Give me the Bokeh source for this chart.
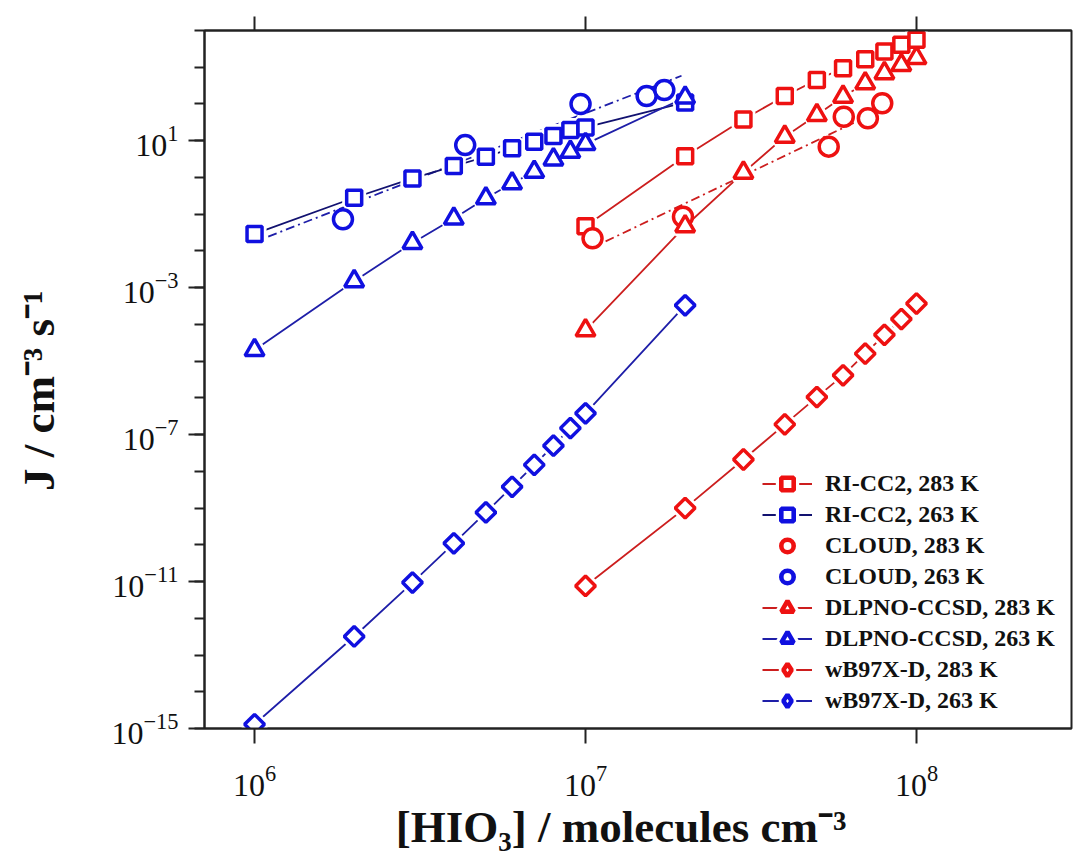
import math
import numpy as np
from bokeh.plotting import figure
from bokeh.models import (Range1d, FixedTicker, LogAxis, Legend, LegendItem)
from bokeh.embed import file_html
from bokeh.resources import INLINE

# ---------------- data ----------------
x_263 = [1e6, 2e6, 3e6, 4e6, 5e6, 6e6, 7e6, 8e6, 9e6, 1e7, 2e7]
x_283 = [1e7, 2e7, 3e7, 4e7, 5e7, 6e7, 7e7, 8e7, 9e7, 1e8]

ricc2_283 = [0.047, 3.8, 38, 165, 452, 940, 1660, 2680, 4070, 5600]
ricc2_263 = [0.029, 0.28, 0.94, 2.04, 3.66, 6.2, 9.4, 13.4, 19.6, 23, 110]

cloud_283_x = [1.05e7, 1.97e7, 5.43e7, 6.03e7, 7.13e7, 7.88e7]
cloud_283_y = [0.022, 0.085, 6.9, 45, 41, 105]
cloud_263_x = [1.85e6, 4.33e6, 9.66e6, 1.53e7, 1.73e7]
cloud_263_y = [0.073, 7.6, 100, 165, 240]

# x extent of the power-law fits drawn through the CLOUD points
cloud_283_fit_span = [1.15e7, 7.8e7]
cloud_263_fit_span = [1.1e6, 1.95e7]

dlpno_283 = [6.9e-5, 0.047, 1.35, 12.9, 50, 158, 367, 690, 1150, 1770]
dlpno_263 = [2e-5, 1.5e-3, 1.65e-2, 7.6e-2, 0.27, 0.69, 1.43, 3.1, 5.0, 8.1, 150]

wb97_283 = [7.6e-12, 1e-9, 2.1e-8, 1.9e-7, 1.05e-6, 4.1e-6, 1.6e-5, 5.2e-5, 1.4e-4, 3.7e-4]
wb97_263 = [1.3e-15, 3.2e-13, 9.4e-12, 1.1e-10, 7.6e-10, 3.8e-9, 1.5e-8, 5e-8, 1.5e-7, 3.8e-7, 3.3e-4]

x_major_ticks = [1e6, 1e7, 1e8]
y_major_ticks = [1e-15, 1e-11, 1e-7, 1e-3, 1e1]
y_minor_ticks = [10.0 ** k for k in range(-15, 5)]

NBSP = "\u00a0"
x_title = "[HIO₃] / molecules cm⁻³" + NBSP * 3
y_title = "J / cm⁻³ s⁻¹" + NBSP * 2

# ---------------- styling ----------------
RED_M = "#EE1111"
BLUE_M = "#1010E0"
RED_L = "#CC1E1E"
BLUE_L = "#1E1EA8"
NAVY_L = "#121270"
AXC = "#222222"
SERIF = "Liberation Serif"

X0, X1 = 7.06e5, 2.94e8
Y0, Y1 = 1e-15, 1e4

p = figure(width=1073, height=860, x_axis_type="log", y_axis_type="log",
           x_range=Range1d(X0, X1), y_range=Range1d(Y0, Y1),
           output_backend="svg", toolbar_location=None,
           min_border_left=204, min_border_right=2, min_border_top=30,
           min_border_bottom=132)
p.grid.visible = False
p.background_fill_color = "white"
p.border_fill_color = "white"
p.outline_line_color = AXC
p.outline_line_width = 2

xa = p.xaxis[0]
xa.ticker = FixedTicker(ticks=x_major_ticks, minor_ticks=[])
ya = p.yaxis[0]
ya.ticker = FixedTicker(ticks=y_major_ticks, minor_ticks=y_minor_ticks)
for ax in (xa, ya):
    ax.axis_line_color = AXC
    ax.axis_line_width = 2
    ax.major_tick_line_color = AXC
    ax.major_tick_line_width = 2
    ax.minor_tick_line_color = AXC
    ax.minor_tick_line_width = 2
    ax.major_tick_in = 0
    ax.minor_tick_in = 0
    ax.major_label_text_font = SERIF
    ax.major_label_text_font_size = "32px"
    ax.major_label_text_color = "#111111"
    ax.major_label_text_font_style = "normal"
    ax.axis_label_text_font = SERIF
    ax.axis_label_text_font_style = "bold"
    ax.axis_label_text_color = "#111111"
xa.major_tick_out = 15
xa.major_label_standoff = 22
xa.axis_label = x_title
xa.axis_label_text_font_size = "45px"
xa.axis_label_standoff = 3
ya.major_tick_out = 16
ya.minor_tick_out = 10
ya.major_label_standoff = 10
ya.axis_label = y_title
ya.axis_label_text_font_size = "45px"
ya.axis_label_standoff = 44

top = LogAxis(ticker=FixedTicker(ticks=x_major_ticks, minor_ticks=[]),
              major_label_text_font_size="2px", major_label_text_alpha=0,
              major_label_standoff=0,
              major_tick_out=14, major_tick_in=0, major_tick_line_width=2,
              major_tick_line_color=AXC, axis_line_color=AXC, axis_line_width=2)
p.add_layout(top, "above")

# ---------------- fit lines (least squares in log-log space) ----------------
def fit_line(xs, ys, span):
    k, b = np.polyfit(np.log10(xs), np.log10(ys), 1)
    xx = np.array(span)
    return xx, 10 ** (k * np.log10(xx) + b)

fx, fy = fit_line(cloud_263_x, cloud_263_y, cloud_263_fit_span)
p.line(fx, fy, line_color=BLUE_L, line_width=1.8, line_dash="9 4 2 4")
fx, fy = fit_line(cloud_283_x, cloud_283_y, cloud_283_fit_span)
p.line(fx, fy, line_color=RED_L, line_width=1.8, line_dash="9 4 2 4")

# ---------------- series ----------------
series = [
    # label, x, y, marker, angle, size, line color, marker color, has line
    ("RI-CC2, 283 K", x_283, ricc2_283, "square", 0, 15, RED_L, RED_M, True),
    ("RI-CC2, 263 K", x_263, ricc2_263, "square", 0, 15, NAVY_L, BLUE_M, True),
    ("CLOUD, 283 K", cloud_283_x, cloud_283_y, "circle", 0, 19, None, RED_M, False),
    ("CLOUD, 263 K", cloud_263_x, cloud_263_y, "circle", 0, 19, None, BLUE_M, False),
    ("DLPNO-CCSD, 283 K", x_283, dlpno_283, "triangle", 0, 19, RED_L, RED_M, True),
    ("DLPNO-CCSD, 263 K", x_263, dlpno_263, "triangle", 0, 19, BLUE_L, BLUE_M, True),
    ("wB97X-D, 283 K", x_283, wb97_283, "square", math.pi / 4, 14, RED_L, RED_M, True),
    ("wB97X-D, 263 K", x_263, wb97_263, "square", math.pi / 4, 14, BLUE_L, BLUE_M, True),
]

lines, halos, marks = {}, {}, {}
for lab, xs, ys, mk, ang, sz, lc, mc, hasline in series:
    if hasline:
        lines[lab] = p.line(xs, ys, line_color=lc, line_width=1.8)
for lab, xs, ys, mk, ang, sz, lc, mc, hasline in series:
    if hasline:
        halos[lab] = p.scatter(xs, ys, marker=mk, angle=ang, size=sz,
                               fill_color="white", line_color="white",
                               line_width=9)
for lab, xs, ys, mk, ang, sz, lc, mc, hasline in series:
    marks[lab] = p.scatter(xs, ys, marker=mk, angle=ang, size=sz,
                           fill_color="white", line_color=mc, line_width=3.5)

# legend swatches (legend glyphs are auto-sized and never rotated, so the
# swatches get their own, non-plotted renderers with a heavier outline)
items = []
for lab, xs, ys, mk, ang, sz, lc, mc, hasline in series:
    rs = []
    leg_mk = "diamond" if ang else mk
    if hasline:
        rs.append(lines[lab])
        rs.append(p.scatter([np.nan], [np.nan], marker=leg_mk,
                            fill_color="white", line_color="white",
                            line_width=11))
    rs.append(p.scatter([np.nan], [np.nan], marker=leg_mk, fill_color="white",
                        line_color=mc, line_width=4.6))
    items.append(LegendItem(label=lab, renderers=rs))

legend = Legend(items=items, location=(558, 12), glyph_width=50,
                glyph_height=31, label_height=31, label_standoff=13,
                spacing=0, padding=0, margin=0, border_line_alpha=0,
                background_fill_alpha=0, label_text_font=SERIF,
                label_text_font_style="bold", label_text_font_size="24px",
                label_text_color="#111111")
p.add_layout(legend)

open("out.html", "w").write(file_html(p, INLINE))
